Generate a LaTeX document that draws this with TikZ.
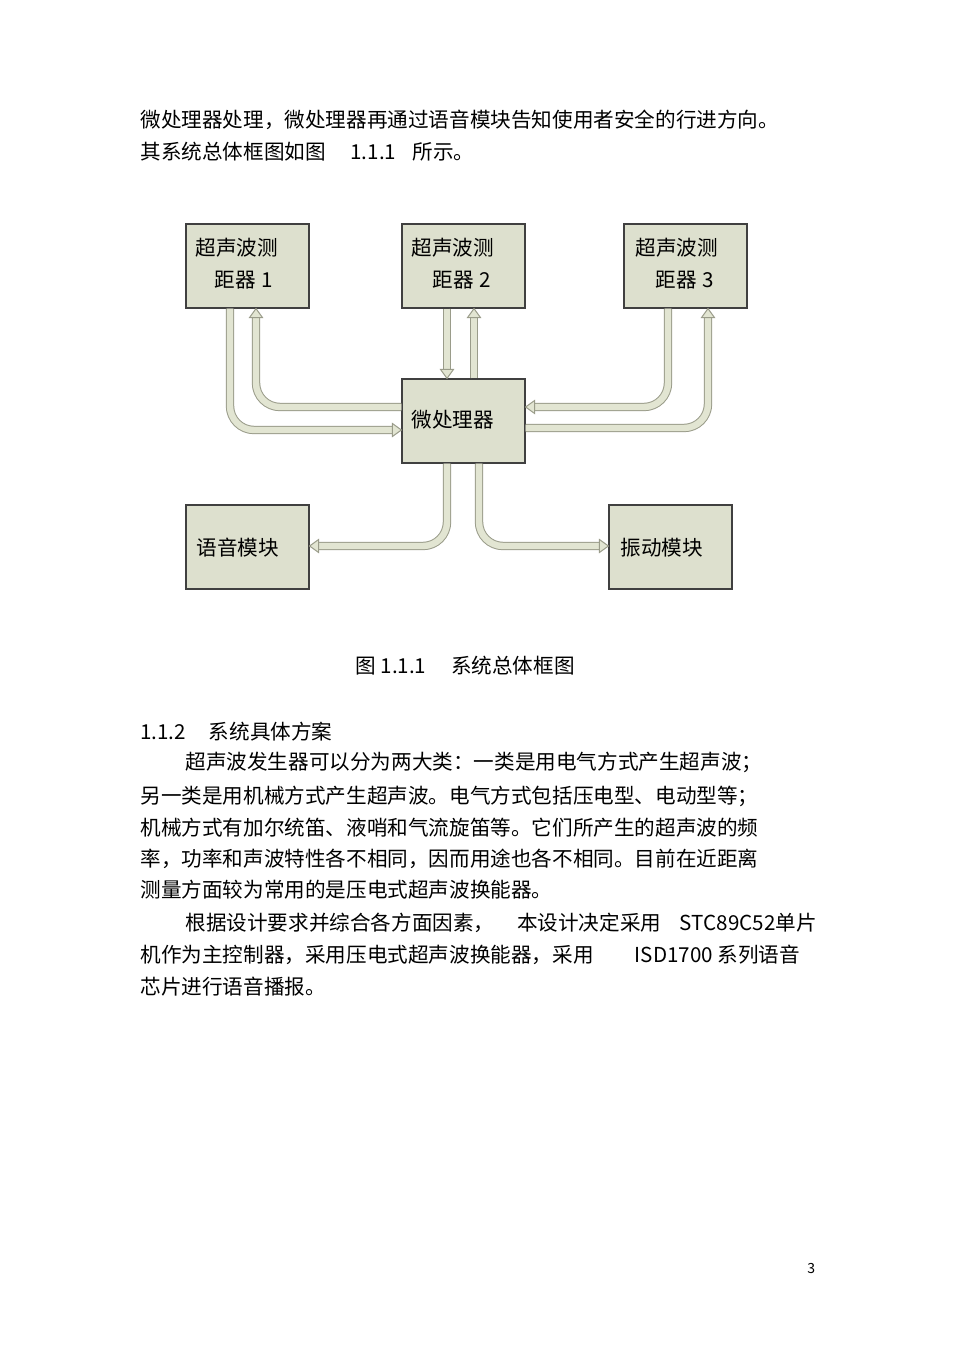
\documentclass[tikz,border=0pt]{standalone}
\usepackage{fontspec}
\setmainfont{Noto Sans CJK SC}
\begin{document}
\begin{tikzpicture}[x=0.5pt,y=-0.5pt,
  box/.style={draw=black!75,fill=boxc,line width=0.6pt,minimum width=61.5pt,minimum height=42pt,inner sep=0pt},
  txt/.style={anchor=west,inner sep=0pt,font=\fontsize{10.3pt}{12pt}\selectfont},
  shaft/.style={double=arrc,double distance=3.2pt,draw=arre,line width=0.5pt,rounded corners=12pt},
  hd/.style={fill=arrc,draw=arre,line width=0.5pt}]
\definecolor{boxc}{HTML}{DDE0CE}
\definecolor{arrc}{HTML}{E2E5D2}
\definecolor{arre}{HTML}{9A9C8A}
\newcommand\hd[2]{\filldraw[hd,shift={(#1)},rotate=#2] (0,0) -- (-9,6.5) -- (-9,-6.5) -- cycle;}
\useasboundingbox (0,0) rectangle (956,1353);
\fill[white] (0,0) rectangle (956,1353);
% text
\node[txt] (t1) at (140,120) {微处理器处理，微处理器再通过语音模块告知使用者安全的行进方向。};
\node[txt] (t2) at (140,152) {其系统总体框图如图\hspace{1.2em}1.1.1\hspace{0.8em}所示。};
\node[txt,anchor=center] (cap) at (465,666) {图 1.1.1\hspace{1.2em}系统总体框图};
\node[txt] (t3) at (140,732) {1.1.2\hspace{1.1em}系统具体方案};
\node[txt] (t4) at (185,762) {超声波发生器可以分为两大类：一类是用电气方式产生超声波；};
\node[txt] (t5) at (140,796) {另一类是用机械方式产生超声波。电气方式包括压电型、电动型等；};
\node[txt] (t6) at (140,828) {机械方式有加尔统笛、液哨和气流旋笛等。它们所产生的超声波的频};
\node[txt] (t7) at (140,859) {率，功率和声波特性各不相同，因而用途也各不相同。目前在近距离};
\node[txt] (t8) at (140,890) {测量方面较为常用的是压电式超声波换能器。};
\node[txt] (t9) at (185,923) {根据设计要求并综合各方面因素，\hspace{1.1em}本设计决定采用\hspace{0.9em}STC89C52单片};
\node[txt] (t10) at (140,955) {机作为主控制器，采用压电式超声波换能器，采用\hspace{2em}ISD1700 系列语音};
\node[txt] (t11) at (140,987) {芯片进行语音播报。};
\node[txt,font=\fontsize{7pt}{8pt}\selectfont] (pg) at (807,1268) {3};
% boxes
\node[box] (s1) at (247.5,266) {};
\node[box] (s2) at (463.5,266) {};
\node[box] (s3) at (685.5,266) {};
\node[box] (m) at (463.5,421) {};
\node[box] (v) at (247.5,547) {};
\node[box] (z) at (670.5,547) {};
\node[txt] at (195,248) {超声波测};
\node[txt] at (214,280) {距器\hspace{0.3em}1};
\node[txt] at (411,248) {超声波测};
\node[txt] at (432,280) {距器\hspace{0.3em}2};
\node[txt] at (635,248) {超声波测};
\node[txt] at (655,280) {距器\hspace{0.3em}3};
\node[txt] at (411,420) {微处理器};
\node[txt] at (196,548) {语音模块};
\node[txt] at (620,548) {振动模块};
% arrows
\draw[shaft] (s1.south -| 230,0) -- (230,430) -- (393,430);
\hd{m.west |- 0,430}{0}
\draw[shaft] (m.west |- 0,407) -- (256,407) -- (256,317);
\hd{s1.south -| 256,0}{90}
\draw[shaft] (s2.south -| 447,0) -- (447,370);
\hd{m.north -| 447,0}{-90}
\draw[shaft] (m.north -| 474,0) -- (474,317);
\hd{s2.south -| 474,0}{90}
\draw[shaft] (s3.south -| 668,0) -- (668,407) -- (534,407);
\hd{m.east |- 0,407}{180}
\draw[shaft] (m.east |- 0,428) -- (708,428) -- (708,317);
\hd{s3.south -| 708,0}{90}
\draw[shaft] (m.south -| 447,0) -- (447,546) -- (318,546);
\hd{v.east |- 0,546}{180}
\draw[shaft] (m.south -| 479,0) -- (479,546) -- (600,546);
\hd{z.west |- 0,546}{0}
\end{tikzpicture}
\end{document}
